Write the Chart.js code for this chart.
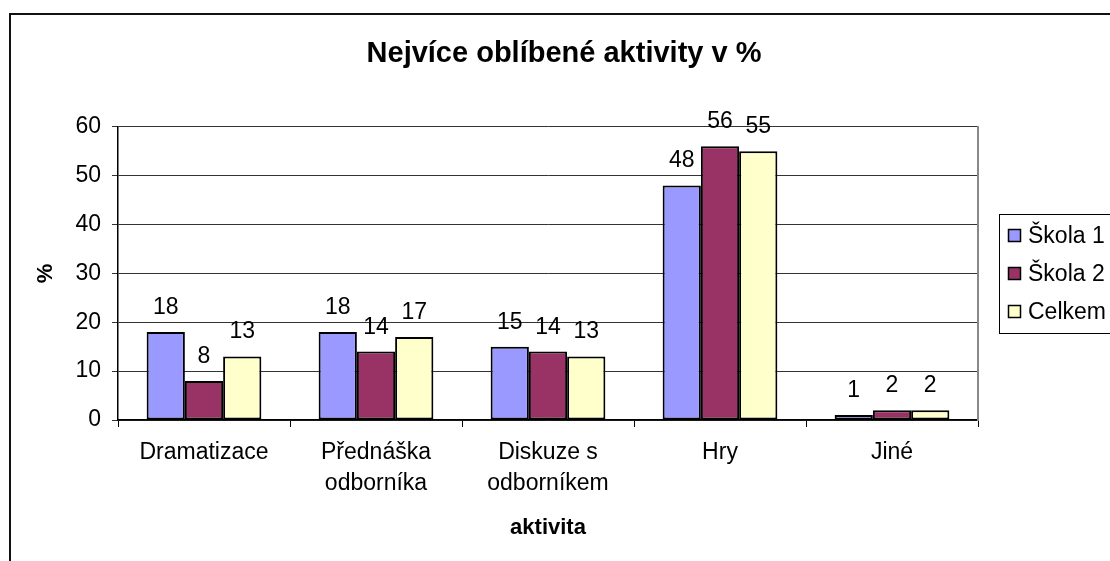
<!DOCTYPE html>
<html>
<head>
<meta charset="utf-8">
<script src="https://cdn.jsdelivr.net/npm/chart.js@4/dist/chart.umd.min.js"></script>
<style>
  body { margin: 0; background: #fff; }
  #frame { position: absolute; left: 9px; top: 13px; width: 1110px; height: 600px;
           border-left: 2px solid #111; border-top: 2px solid #111; }
  #chart { position: absolute; left: 0; top: 0; }
</style>
</head>
<body>
<div id="frame"></div>
<canvas id="chart" width="1110" height="561"></canvas>
<script>
// categories and values
const categories = ['Dramatizace', ['Přednáška', 'odborníka'], ['Diskuze s', 'odborníkem'], 'Hry', 'Jiné'];
const seriesNames = ['Škola 1', 'Škola 2', 'Celkem'];
const skola1 = [18, 18, 15, 48, 1];
const skola2 = [8, 14, 14, 56, 2];
const celkem = [13, 17, 13, 55, 2];
const yTicks = [0, 10, 20, 30, 40, 50, 60];

const colors = ['#9999FF', '#993366', '#FFFFCC'];
const FONT = '"Liberation Sans", Arial, sans-serif';

Chart.defaults.font.family = FONT;
Chart.defaults.color = '#000';

// value labels above the bars
const valueLabels = {
    id: 'valueLabels',
    afterDatasetsDraw(chart) {
        const ctx = chart.ctx;
        ctx.save();
        ctx.font = '23px ' + FONT;
        ctx.fillStyle = '#000';
        ctx.textAlign = 'center';
        ctx.textBaseline = 'alphabetic';
        chart.data.datasets.forEach((ds, i) => {
            chart.getDatasetMeta(i).data.forEach((bar, j) => {
                ctx.fillText(ds.data[j], bar.x, bar.y - 18);
            });
        });
        ctx.restore();
    }
};

// boxed legend on the right, like the spreadsheet one
const boxLegend = {
    id: 'boxLegend',
    afterDraw(chart) {
        const ctx = chart.ctx;
        ctx.save();
        ctx.strokeStyle = '#000';
        ctx.lineWidth = 1;
        ctx.strokeRect(999.5, 214.5, 200, 119);
        ctx.font = '23px ' + FONT;
        ctx.textBaseline = 'middle';
        ctx.textAlign = 'left';
        chart.data.datasets.forEach((ds, i) => {
            const y = 236 + i * 38;
            ctx.fillStyle = ds.backgroundColor;
            ctx.fillRect(1008, y - 6, 12, 12);
            ctx.lineWidth = 1.5;
            ctx.strokeRect(1008.5, y - 6.5, 12, 12);
            ctx.fillStyle = '#000';
            ctx.fillText(ds.label, 1028, y + 1);
        });
        ctx.restore();
    }
};

const datasets = [skola1, skola2, celkem].map((values, i) => ({
    label: seriesNames[i],
    data: values,
    backgroundColor: colors[i],
    borderColor: '#000',
    borderWidth: 2,
    borderSkipped: false,
    categoryPercentage: 0.667,
    barPercentage: 1
}));

new Chart(document.getElementById('chart'), {
    type: 'bar',
    data: { labels: categories, datasets: datasets },
    plugins: [valueLabels, boxLegend],
    options: {
        responsive: false,
        animation: false,
        layout: { padding: { left: 22, right: 4, top: 0, bottom: 0 } },
        plugins: {
            legend: { display: false },
            tooltip: { enabled: false },
            title: {
                display: true,
                text: 'Nejvíce oblíbené aktivity v %',
                font: { size: 29, weight: 'bold' },
                color: '#000',
                padding: { top: 37, bottom: 55 }
            }
        },
        scales: {
            x: {
                grid: { drawOnChartArea: false, color: '#000', tickLength: 7 },
                border: { color: '#000', width: 1.5 },
                ticks: { font: { size: 23, lineHeight: 1.36 }, color: '#000', padding: 10, maxRotation: 0 },
                title: {
                    display: true, text: 'aktivita', color: '#000',
                    font: { size: 22, weight: 'bold' }, padding: { top: 0, bottom: 20 }
                },
                afterFit(scale) { scale.height = 141; }
            },
            y: {
                min: 0,
                max: 60,
                afterBuildTicks(scale) { scale.ticks = yTicks.map(v => ({ value: v })); },
                grid: { color: '#333', lineWidth: 1, tickLength: 6 },
                border: { color: '#000', width: 1.5 },
                ticks: { font: { size: 23 }, color: '#000', padding: 11 },
                title: {
                    display: true, text: '%', color: '#000',
                    font: { size: 22, weight: 'bold' }, padding: { top: 11, bottom: 0 }
                },
                afterFit(scale) { scale.width = 96; }
            },
            yRight: {
                type: 'linear',
                position: 'right',
                min: 0,
                max: 60,
                grid: { drawOnChartArea: false, drawTicks: false },
                border: { color: '#888', width: 2 },
                ticks: { display: false },
                afterFit(scale) { scale.width = 128; }
            }
        }
    }
});
</script>
</body>
</html>
